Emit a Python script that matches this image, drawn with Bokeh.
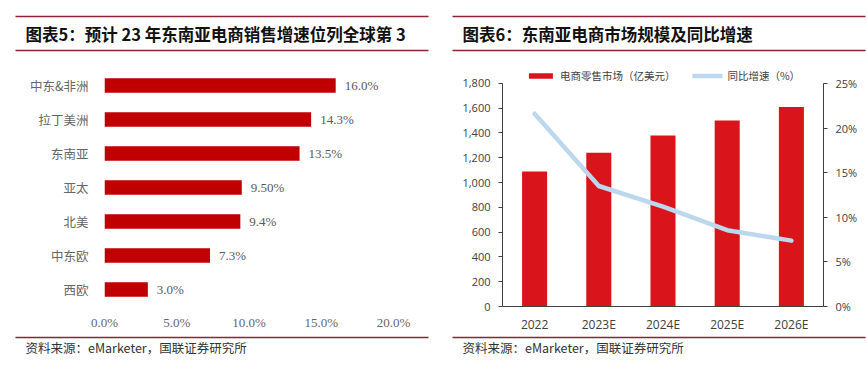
from bokeh.plotting import figure
from bokeh.layouts import row, column
from bokeh.models import (ColumnDataSource, FactorRange, Range1d, LinearAxis, FixedTicker,
                          NumeralTickFormatter, LabelSet, Label, Legend)
from bokeh.embed import file_html
from bokeh.resources import INLINE

# ---------------- data ----------------
title1 = "图表5：预计 23 年东南亚电商销售增速位列全球第 3"
title2 = "图表6：东南亚电商市场规模及同比增速"
source_text = "资料来源：eMarketer，国联证券研究所"

regions = ["中东&非洲", "拉丁美洲", "东南亚", "亚太", "北美", "中东欧", "西欧"]
growth_2023 = [0.160, 0.143, 0.135, 0.095, 0.094, 0.073, 0.030]
growth_labels = ["16.0%", "14.3%", "13.5%", "9.50%", "9.4%", "7.3%", "3.0%"]
x_ticks = [0.0, 0.05, 0.10, 0.15, 0.20]

years = ["2022", "2023E", "2024E", "2025E", "2026E"]
market_size = [1090, 1240, 1380, 1500, 1610]
yoy_growth = [0.216, 0.135, 0.112, 0.0855, 0.0738]
size_ticks = [0, 200, 400, 600, 800, 1000, 1200, 1400, 1600, 1800]
pct_ticks = [0, 0.05, 0.10, 0.15, 0.20, 0.25]

# ---------------- styles ----------------
HDR_COLOR = "#8B2238"
CJK = "Noto Sans CJK SC"
LW, RW = 437, 430
HH, CH, FH = 64, 271, 30
TOP, BOT = 4, 27


def blank(width, height):
    p = figure(width=width, height=height, output_backend="svg", toolbar_location=None,
               x_range=Range1d(0, width), y_range=Range1d(0, height),
               min_border=0, min_border_left=0, min_border_right=0,
               min_border_top=0, min_border_bottom=0)
    p.axis.visible = False
    p.grid.visible = False
    p.outline_line_color = None
    return p


def header(width, x0, x1, tx, title):
    p = blank(width, HH)
    p.segment(x0=[x0, x0], x1=[x1, x1], y0=[48, 14], y1=[48, 14], line_color=HDR_COLOR, line_width=1.3)
    p.add_layout(Label(x=tx, y=31, text=title, text_font=CJK, text_font_style="bold",
                       text_font_size="16.5px", text_color="#111111", text_baseline="middle"))
    return p


def footer(width, x0, x1, tx):
    p = blank(width, FH)
    p.segment(x0=[x0], x1=[x1], y0=[28], y1=[28], line_color=HDR_COLOR, line_width=1.3)
    p.add_layout(Label(x=tx, y=18, text=source_text, text_font=CJK, text_font_size="12.5px",
                       text_color="#333333", text_baseline="middle"))
    return p


# ---------------- left chart ----------------
src1 = ColumnDataSource(dict(cat=regions, val=growth_2023, lab=growth_labels))
c1 = figure(width=LW, height=CH, output_backend="svg", toolbar_location=None,
            y_range=FactorRange(factors=list(reversed(regions))), x_range=Range1d(0, 0.20),
            min_border_left=104, min_border_right=44, min_border_top=TOP, min_border_bottom=BOT)
c1.hbar(y="cat", right="val", left=0, height=0.43, source=src1, fill_color="#C00000", line_color=None)
c1.add_layout(LabelSet(x="val", y="cat", text="lab", source=src1, x_offset=9,
                       text_baseline="middle", text_font="Liberation Serif",
                       text_font_size="13px", text_color="#595959"))
c1.grid.visible = False
c1.outline_line_color = None
c1.xaxis.ticker = FixedTicker(ticks=x_ticks)
c1.xaxis.formatter = NumeralTickFormatter(format="0.0%")
for ax in (c1.xaxis[0], c1.yaxis[0]):
    ax.axis_line_color = None
    ax.major_tick_line_color = None
    ax.minor_tick_line_color = None
c1.xaxis.major_tick_out = 0
c1.xaxis.major_tick_in = 0
c1.xaxis.minor_tick_out = 0
c1.xaxis.major_label_text_font = "Liberation Serif"
c1.xaxis.major_label_text_font_size = "13px"
c1.xaxis.major_label_text_color = "#666666"
c1.xaxis.major_label_standoff = 8
c1.yaxis.major_label_text_font = CJK
c1.yaxis.major_label_text_font_size = "12.5px"
c1.yaxis.major_label_text_color = "#666666"
c1.yaxis.major_label_standoff = 10

# ---------------- right chart ----------------
src2 = ColumnDataSource(dict(year=years, size=market_size, g=yoy_growth))
c2 = figure(width=RW, height=CH, output_backend="svg", toolbar_location=None,
            x_range=FactorRange(factors=years), y_range=Range1d(0, 1920),
            min_border_left=65, min_border_right=44, min_border_top=TOP, min_border_bottom=BOT)
c2.extra_y_ranges = {"pct": Range1d(0, 0.26667)}
r_bar = c2.vbar(x="year", top="size", width=0.39, source=src2, fill_color="#D9141B", line_color=None)
r_line = c2.line(x="year", y="g", y_range_name="pct", source=src2, line_color="#BDD7EE",
                 line_width=4.5, line_cap="round", line_join="round")
c2.grid.visible = False
c2.outline_line_color = None

ya = c2.yaxis[0]
ya.ticker = FixedTicker(ticks=size_ticks)
ya.formatter = NumeralTickFormatter(format="0,0")
ya.bounds = (0, 1800)

ra = LinearAxis(y_range_name="pct", ticker=FixedTicker(ticks=pct_ticks),
                formatter=NumeralTickFormatter(format="0%"), bounds=(0, 0.25))
c2.add_layout(ra, "right")

for ax in (ya, ra):
    ax.axis_line_color = "#404040"
    ax.major_tick_line_color = "#404040"
    ax.major_tick_out = 4
    ax.major_tick_in = 0
    ax.minor_tick_line_color = None
    ax.minor_tick_out = 0
    ax.major_label_text_font = "Open Sans"
    ax.major_label_text_font_size = "11px"
    ax.major_label_text_color = "#404040"
    ax.major_label_standoff = 8

xa = c2.xaxis[0]
xa.axis_line_color = "#404040"
xa.major_tick_line_color = None
xa.minor_tick_line_color = None
xa.major_tick_out = 0
xa.major_tick_in = 0
xa.minor_tick_out = 0
xa.major_label_text_font = "Open Sans"
xa.major_label_text_font_size = "12px"
xa.major_label_text_color = "#404040"
xa.major_label_standoff = 9

legend = Legend(items=[("电商零售市场（亿美元）", [r_bar]), ("同比增速（%）", [r_line])],
                location="top_center", orientation="horizontal",
                background_fill_alpha=0, border_line_color=None, padding=0, margin=0,
                spacing=17, label_standoff=5, glyph_width=30, glyph_height=7,
                label_height=10, label_text_font=CJK, label_text_font_size="10.5px",
                label_text_color="#404040")
c2.add_layout(legend)

# ---------------- assemble ----------------
h_row = row(header(LW, 15, 428, 25, title1), header(RW, 15, 428, 25, title2), spacing=0)
c_row = row(c1, c2, spacing=0)
f_row = row(footer(LW, 15, 428, 25), footer(RW, 15, 428, 25), spacing=0)
page = column(h_row, c_row, f_row, spacing=0)

open("out.html", "w").write(file_html(page, INLINE))
